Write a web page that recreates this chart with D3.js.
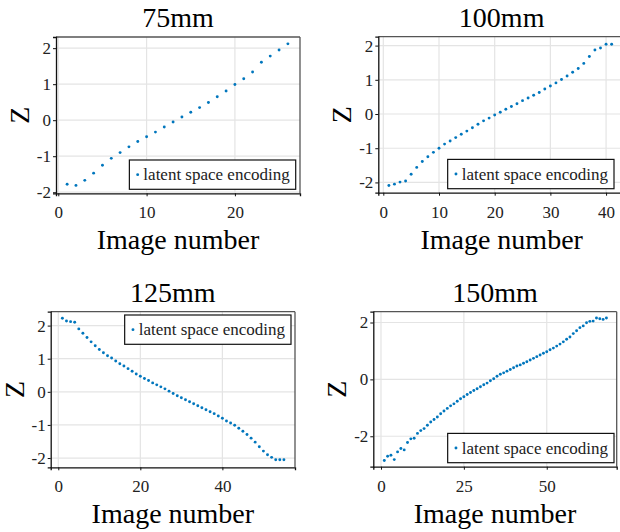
<!DOCTYPE html>
<html>
<head>
<meta charset="utf-8">
<script src="https://cdn.jsdelivr.net/npm/d3@7"></script>
<style>
  html, body { margin: 0; padding: 0; background: #fff; }
  svg { display: block; }
  svg text { font-family: "Liberation Serif", "DejaVu Serif", serif !important; }
</style>
</head>
<body>
<svg id="chart" width="620" height="532"></svg>
<script>
// ---- data ----
const titles = ["75mm", "100mm", "125mm", "150mm"];
const legendLabel = "latent space encoding";
const xLabel = "Image number";
const yLabel = "Z";

const z75 = [-1.78, -1.81, -1.67, -1.47, -1.25, -1.06, -0.90, -0.74, -0.59, -0.46,
  -0.33, -0.19, -0.05, 0.09, 0.22, 0.35, 0.49, 0.65, 0.81, 0.99,
  1.15, 1.34, 1.61, 1.78, 1.95, 2.12];

const z100 = [-2.09, -2.05, -1.99, -1.96, -1.76, -1.56, -1.39, -1.25, -1.12, -1.00,
  -0.88, -0.79, -0.69, -0.59, -0.50, -0.40, -0.30, -0.20, -0.12, -0.03,
  0.05, 0.14, 0.22, 0.30, 0.39, 0.47, 0.55, 0.63, 0.73, 0.82,
  0.91, 1.01, 1.11, 1.22, 1.33, 1.48, 1.68, 1.87, 1.93, 2.04, 2.04];

const z125 = [2.22, 2.14, 2.12, 2.10, 1.90, 1.77, 1.64, 1.51, 1.39, 1.28,
  1.18, 1.09, 1.02, 0.93, 0.85, 0.78, 0.70, 0.62, 0.54, 0.47,
  0.40, 0.34, 0.27, 0.21, 0.15, 0.09, 0.02, -0.05, -0.12, -0.18,
  -0.24, -0.30, -0.36, -0.42, -0.48, -0.54, -0.60, -0.66, -0.73, -0.80,
  -0.88, -0.94, -1.01, -1.10, -1.19, -1.29, -1.40, -1.52, -1.66, -1.79,
  -1.90, -1.98, -2.05, -2.05, -2.05];

const z150 = [-2.85, -2.70, -2.67, -2.82, -2.55, -2.43, -2.48, -2.22, -2.09, -2.07,
  -1.90, -1.80, -1.73, -1.61, -1.50, -1.41, -1.32, -1.21, -1.11, -1.02,
  -0.93, -0.86, -0.77, -0.68, -0.61, -0.53, -0.46, -0.39, -0.33, -0.26,
  -0.19, -0.13, -0.05, 0.02, 0.11, 0.18, 0.23, 0.29, 0.35, 0.41,
  0.47, 0.51, 0.57, 0.62, 0.68, 0.74, 0.80, 0.86, 0.92, 0.97,
  1.04, 1.10, 1.17, 1.24, 1.32, 1.41, 1.49, 1.61, 1.71, 1.82,
  1.88, 1.99, 2.04, 2.05, 2.16, 2.13, 2.11, 2.16];

const xTicks75 = [0, 10, 20];
const xTicks100 = [0, 10, 20, 30, 40];
const xTicks125 = [0, 20, 40];
const xTicks150 = [0, 25, 50];
const yTicks75 = [-2, -1, 0, 1, 2];
const yTicks100 = [-2, -1, 0, 1, 2];
const yTicks125 = [-2, -1, 0, 1, 2];
const yTicks150 = [-2, 0, 2];

const xDomains = [[-0.26, 27.37], [-0.9, 43.4], [-1.85, 57.7], [-2.32, 71.1]];
const yDomains = [[-2.03, 2.31], [-2.30, 2.26], [-2.28, 2.42], [-3.07, 2.38]];

// ---- layout ----
const panels = [
  { title: titles[0], z: z75, xt: xTicks75, yt: yTicks75, xd: xDomains[0], yd: yDomains[0],
    box: { l: 56, r: 300, t: 37, b: 193.3 }, legend: "br", legRight: 295.7 },
  { title: titles[1], z: z100, xt: xTicks100, yt: yTicks100, xd: xDomains[1], yd: yDomains[1],
    box: { l: 378.3, r: 625, t: 36.7, b: 192.7 }, legend: "br", legRight: 614 },
  { title: titles[2], z: z125, xt: xTicks125, yt: yTicks125, xd: xDomains[2], yd: yDomains[2],
    box: { l: 50.7, r: 295, t: 311.7, b: 467.3 }, legend: "tr", legRight: 291 },
  { title: titles[3], z: z150, xt: xTicks150, yt: yTicks150, xd: xDomains[3], yd: yDomains[3],
    box: { l: 373.3, r: 616.7, t: 311.7, b: 466.7 }, legend: "br", legRight: 614 }
];

const dotColor = "#0076bd";
const serif = '"Liberation Serif", "DejaVu Serif", serif';
const svg = d3.select("#chart");

panels.forEach(p => {
  const B = p.box;
  const x = d3.scaleLinear().domain(p.xd).range([B.l, B.r]);
  const y = d3.scaleLinear().domain(p.yd).range([B.b, B.t]);
  const g = svg.append("g");

  // grid
  g.append("g").selectAll("line").data(p.xt).join("line")
    .attr("x1", d => x(d)).attr("x2", d => x(d))
    .attr("y1", B.t).attr("y2", B.b)
    .attr("stroke", "#e4e4e4").attr("stroke-width", 1.2);
  g.append("g").selectAll("line").data(p.yt).join("line")
    .attr("y1", d => y(d)).attr("y2", d => y(d))
    .attr("x1", B.l).attr("x2", B.r)
    .attr("stroke", "#e4e4e4").attr("stroke-width", 1.2);

  // frame (top/right)
  g.append("line").attr("x1", B.l).attr("x2", B.r).attr("y1", B.t).attr("y2", B.t)
    .attr("stroke", "#555").attr("stroke-width", 1.3);
  g.append("line").attr("x1", B.r).attr("x2", B.r).attr("y1", B.t).attr("y2", B.b)
    .attr("stroke", "#555").attr("stroke-width", 1.3);

  // axes
  const xAxis = d3.axisBottom(x).tickValues(p.xt).tickSize(3).tickPadding(6)
    .tickFormat(d => String(d));
  const yAxis = d3.axisLeft(y).tickValues(p.yt).tickSize(3).tickPadding(2)
    .tickFormat(d => String(d).replace("\u2212", "-"));
  const gx = g.append("g").attr("transform", `translate(0,${B.b})`).call(xAxis);
  const gy = g.append("g").attr("transform", `translate(${B.l},0)`).call(yAxis);
  [gx, gy].forEach(a => {
    a.attr("font-family", serif);
    a.select(".domain").attr("stroke", "#111").attr("stroke-width", 1.3);
    a.selectAll(".tick line").attr("stroke", "#111");
    a.selectAll(".tick text").style("font-family", serif)
      .attr("font-size", 17).attr("fill", "#222");
  });
  gx.selectAll(".tick text").attr("dy", "0.95em");

  // points
  g.append("g").selectAll("circle").data(p.z).join("circle")
    .attr("cx", (d, i) => x(i + 1)).attr("cy", d => y(d))
    .attr("r", 1.45).attr("fill", dotColor);

  // title
  g.append("text").attr("x", (B.l + Math.min(B.r, 625)) / 2).attr("y", B.t - 10)
    .attr("text-anchor", "middle").attr("font-size", 28).style("font-family", serif).text(p.title);
  // x label
  g.append("text").attr("x", (B.l + B.r) / 2).attr("y", B.b + 56)
    .attr("text-anchor", "middle").attr("font-size", 28).style("font-family", serif).text(xLabel);
  // y label
  g.append("text")
    .attr("transform", `translate(${B.l - 36.5},${(B.t + B.b) / 2}) rotate(-90)`)
    .attr("text-anchor", "middle").attr("dominant-baseline", "central")
    .attr("font-size", 28).style("font-family", serif).text(yLabel);

  // legend
  const lg = g.append("g");
  const rect = lg.append("rect").attr("fill", "#fff").attr("stroke", "#111").attr("stroke-width", 1.2);
  const txt = lg.append("text").attr("font-size", 17).attr("fill", "#222")
    .style("font-family", serif).text(legendLabel);
  const tw = txt.node().getComputedTextLength();
  const w = tw + 20, h = 29.3;
  const lx = p.legRight - w;
  const ly = p.legend === "br" ? B.b - 4 - h : B.t + 3.3;
  rect.attr("x", lx).attr("y", ly).attr("width", w).attr("height", h);
  txt.attr("x", lx + 14).attr("y", ly + h / 2 + 5.5);
  lg.append("circle").attr("cx", lx + 8.3).attr("cy", ly + h / 2).attr("r", 1.45).attr("fill", dotColor);
});
</script>
</body>
</html>
